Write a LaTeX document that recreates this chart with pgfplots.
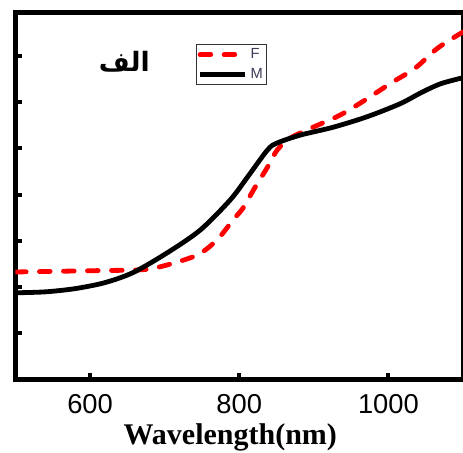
\documentclass[border=0pt]{standalone}
\usepackage{pgfplots}
\pgfplotsset{compat=1.18}
\usepackage{fontspec}
\setmainfont{Liberation Serif}
\newfontfamily\arialf{Liberation Sans}
\newfontfamily\arabicfont[Script=Arabic]{DejaVu Sans}
\TeXXeTstate=1
\definecolor{legtext}{RGB}{60,60,90}
\begin{document}
\begin{tikzpicture}
\begin{axis}[name=ax, scale only axis, width=335.6pt, height=275pt,
  xmin=500, xmax=1100, ymin=0, ymax=7.93,
  xtick={600,800,1000}, ytick={1,2,3,4,5,6,7}, yticklabels={},
  tick align=inside, xtick pos=bottom, ytick pos=left,
  major tick length=5pt,
  axis line style={line width=3.75pt},
  every tick/.style={black, line width=3pt},
  /pgf/number format/assume math mode=true,
  /pgf/number format/1000 sep={},
  xticklabel style={font=\arialf\fontsize{20.5}{20.5}\selectfont, anchor=center, yshift=-18.5pt},
  xlabel={Wavelength(nm)},
  xlabel style={font=\bfseries\fontsize{22.5}{22.5}\selectfont, at={(axis description cs:0.48,0)}, anchor=center, yshift=-43pt},
  legend style={at={(0.403,0.915)}, anchor=north west, draw=black!80, line width=0.8pt,
    font=\arialf\fontsize{11}{11}\selectfont, text=legtext, inner sep=1pt, row sep=2pt,
    cells={anchor=west}},
  legend image code/.code={\draw[#1] (0pt,0pt) -- (34pt,0pt);},
]
\addplot[red, line width=3.6pt, dash pattern=on 8pt off 10pt, line cap=round, smooth] coordinates {
(500,2.33)(613,2.36)(671,2.38)(703,2.48)(744,2.70)(770,3.02)(792,3.46)(805,3.71)(819,4.10)(838,4.60)(851,4.97)(869,5.23)(899,5.46)(935,5.72)(969,6.05)(1003,6.41)(1036,6.74)(1066,7.17)(1100,7.52)};
\addlegendentry{F}
\addplot[black, line width=3.6pt, smooth] coordinates {
(500,1.88)(540,1.90)(580,1.97)(620,2.10)(658,2.32)(703,2.74)(748,3.24)(788,3.89)(811,4.38)(838,4.97)(851,5.12)(882,5.29)(926,5.46)(972,5.69)(1016,5.97)(1043,6.20)(1070,6.40)(1100,6.53)};
\addlegendentry{M}
\node[font=\arabicfont\bfseries\fontsize{20}{20}\selectfont] at (axis cs:646,6.87) {\beginR الف\endR};
\end{axis}
\pgfresetboundingbox
\path ([xshift=-11.6pt,yshift=-54.75pt]ax.south west) rectangle ([yshift=9.75pt]ax.north east);
\end{tikzpicture}
\end{document}
